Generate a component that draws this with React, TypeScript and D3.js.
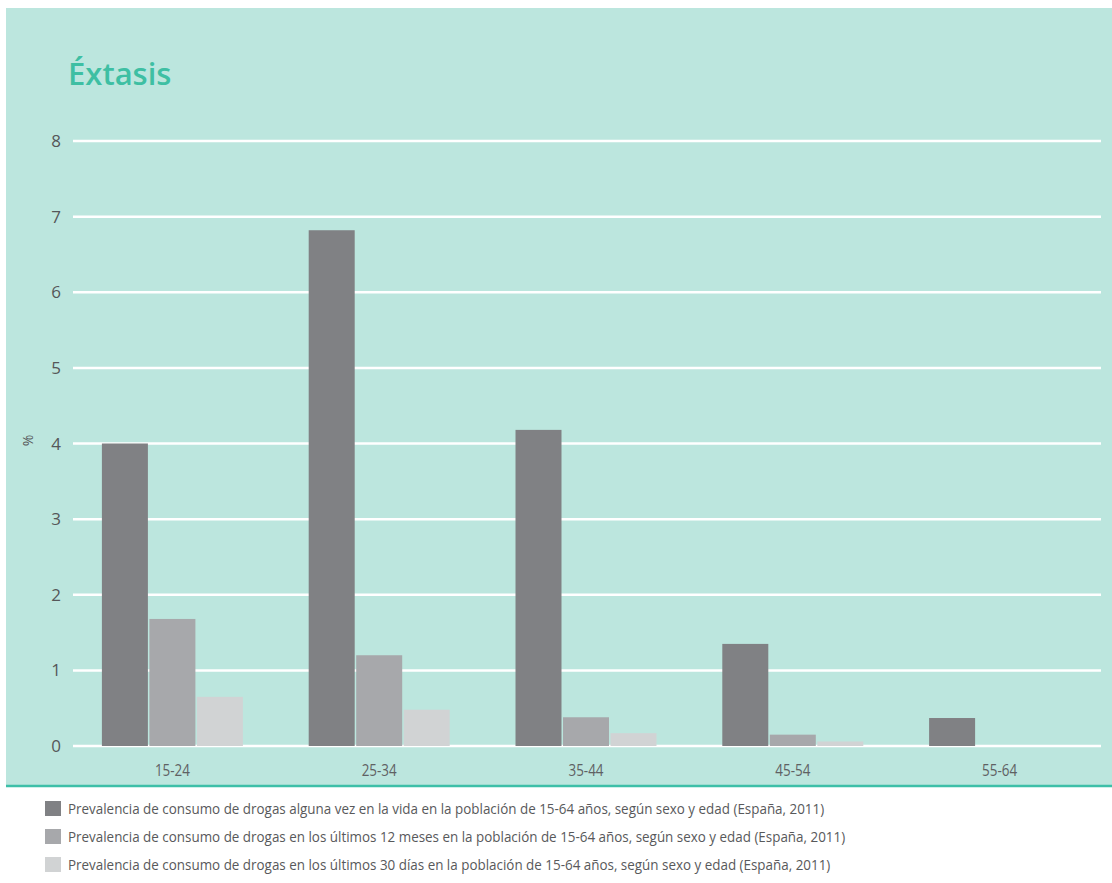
import React from "react";
import * as d3 from "d3";

const categories = ["15-24", "25-34", "35-44", "45-54", "55-64"];
const seriesNames = [
  "Prevalencia de consumo de drogas alguna vez en la vida en la población de 15-64 años, según sexo y edad (España, 2011)",
  "Prevalencia de consumo de drogas en los últimos 12 meses en la población de 15-64 años, según sexo y edad (España, 2011)",
  "Prevalencia de consumo de drogas en los últimos 30 días en la población de 15-64 años, según sexo y edad (España, 2011)",
];
const vidaValues = [4.0, 6.82, 4.18, 1.35, 0.37];
const mesesValues = [1.68, 1.2, 0.38, 0.15, 0];
const diasValues = [0.65, 0.48, 0.17, 0.06, 0];
const yTicks = [0, 1, 2, 3, 4, 5, 6, 7, 8];
const colors = ["#808184", "#a7a8ab", "#d1d3d4"];

const W = 1112;
const H = 883;
const plotTop = 141;
const plotBottom = 746;
const plotLeft = 69;
const plotRight = 1103;
const gridLeft = 73;
const gridRight = 1101;

export default function App() {
  const series = [vidaValues, mesesValues, diasValues];
  const x0 = d3.scaleBand<string>().domain(categories).range([plotLeft, plotRight]).paddingInner(0).paddingOuter(0);
  const barW = 46;
  const gap = 1.5;
  const groupW = barW * 3 + gap * 2;
  const y = d3.scaleLinear().domain([0, 8]).range([plotBottom, plotTop]);
  const font = "'Open Sans', 'Noto Sans', sans-serif";

  return (
    <svg width={W} height={H} style={{ position: "absolute", left: 0, top: 0 }} fontFamily={font}>
      <rect x={6} y={8} width={W - 6} height={778} fill="#bce6de" />
      <line x1={6} x2={W} y1={786} y2={786} stroke="#3dbfa8" strokeWidth={2.5} />
      <text x={68} y={85} fontSize={31} fontWeight={600} fill="#3ebfa3">Éxtasis</text>
      {yTicks.map((t) => (
        <g key={t}>
          <line x1={gridLeft} x2={gridRight} y1={y(t)} y2={y(t)} stroke="#ffffff" strokeWidth={2.5} />
          <text x={61} y={y(t) + 6} textAnchor="end" fontSize={17} fill="#555759">{t}</text>
        </g>
      ))}
      <text transform={`translate(33,${(plotTop + plotBottom) / 2 - 3}) rotate(-90)`} textAnchor="middle" fontSize={14} fill="#555759">%</text>
      {categories.map((c, i) => {
        const cx = (x0(c) as number) + x0.bandwidth() / 2;
        const start = cx - groupW / 2;
        return (
          <g key={c}>
            {series.map((s, j) => (
              s[i] > 0 ? (
                <rect key={j} x={start + j * (barW + gap)} y={y(s[i])} width={barW} height={y(0) - y(s[i])} fill={colors[j]} />
              ) : null
            ))}
            <text transform={`translate(${cx},776) scale(0.84,1)`} textAnchor="middle" fontSize={16} fill="#5f6163">{c}</text>
          </g>
        );
      })}
      {seriesNames.map((n, j) => (
        <g key={j} transform={`translate(45,${801 + j * 28})`}>
          <rect x={0} y={0} width={16} height={15} fill={colors[j]} />
          <text transform={`translate(23,12.5) scale(0.895,1)`} fontSize={15} fill="#58595b">{n}</text>
        </g>
      ))}
    </svg>
  );
}
